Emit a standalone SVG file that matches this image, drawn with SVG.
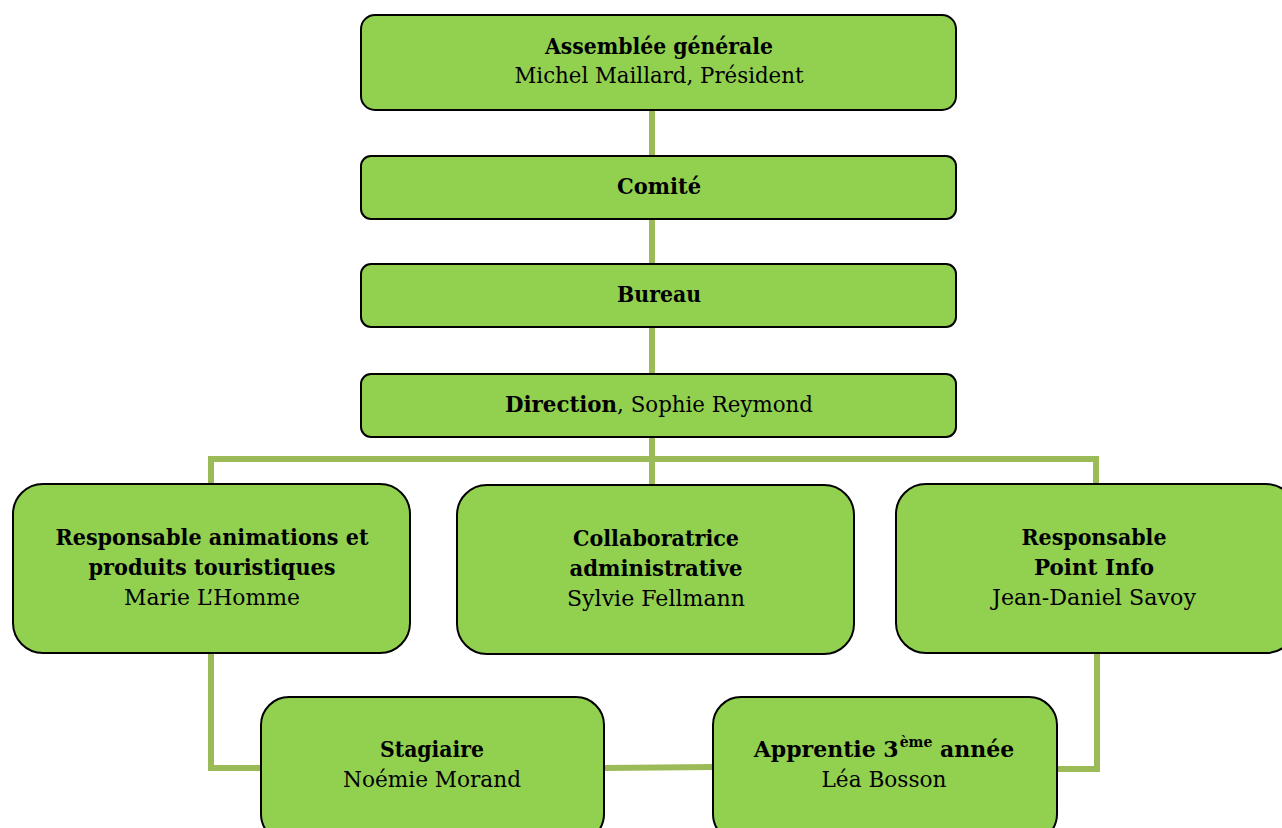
<svg xmlns="http://www.w3.org/2000/svg" width="1282" height="828" viewBox="0 0 1282 828">
<style>
.box{fill:#92d050;stroke:#000;stroke-width:2}
.con{stroke:#9bbb59;stroke-width:6;fill:none}
text{font-family:"DejaVu Serif","Liberation Serif",serif;font-size:22px;fill:#000;text-anchor:middle}
.b{font-weight:bold}
</style>
<rect width="1282" height="828" fill="#fff"/>
<g id="connectors">
<line class="con" x1="652" y1="110" x2="652" y2="485"/>
<polyline class="con" points="211,485 211,459 1096,459 1096,485"/>
<polyline class="con" points="211,653 211,768 262,768"/>
<line class="con" x1="604" y1="768" x2="713" y2="767"/>
<polyline class="con" points="1057,769 1097,769 1097,653"/>
</g>
<g id="n1"><rect class="box" x="361" y="15" width="595" height="95" rx="14"/>
<text x="659" y="54" class="b" textLength="228" lengthAdjust="spacingAndGlyphs">Assemblée générale</text>
<text x="659" y="83" textLength="289" lengthAdjust="spacingAndGlyphs">Michel Maillard, Président</text></g>
<g id="n2"><rect class="box" x="361" y="156" width="595" height="63" rx="10"/>
<text x="659" y="194" class="b" textLength="84" lengthAdjust="spacingAndGlyphs">Comité</text></g>
<g id="n3"><rect class="box" x="361" y="264" width="595" height="63" rx="10"/>
<text x="659" y="302" class="b" textLength="84" lengthAdjust="spacingAndGlyphs">Bureau</text></g>
<g id="n4"><rect class="box" x="361" y="374" width="595" height="63" rx="10"/>
<text x="659" y="412" textLength="308" lengthAdjust="spacingAndGlyphs"><tspan class="b">Direction</tspan>, Sophie Reymond</text></g>
<g id="n5"><rect class="box" x="13" y="484" width="397" height="169" rx="30"/>
<text x="212" y="545" class="b" textLength="313" lengthAdjust="spacingAndGlyphs">Responsable animations et</text>
<text x="212" y="575" class="b" textLength="247" lengthAdjust="spacingAndGlyphs">produits touristiques</text>
<text x="212" y="605" textLength="176" lengthAdjust="spacingAndGlyphs">Marie L’Homme</text></g>
<g id="n6"><rect class="box" x="457" y="485" width="397" height="169" rx="30"/>
<text x="656" y="546" class="b" textLength="166" lengthAdjust="spacingAndGlyphs">Collaboratrice</text>
<text x="656" y="576" class="b" textLength="173" lengthAdjust="spacingAndGlyphs">administrative</text>
<text x="656" y="606" textLength="178" lengthAdjust="spacingAndGlyphs">Sylvie Fellmann</text></g>
<g id="n7"><rect class="box" x="896" y="484" width="400" height="169" rx="30"/>
<text x="1094" y="545" class="b" textLength="145" lengthAdjust="spacingAndGlyphs">Responsable</text>
<text x="1094" y="575" class="b" textLength="120" lengthAdjust="spacingAndGlyphs">Point Info</text>
<text x="1094" y="605" textLength="204" lengthAdjust="spacingAndGlyphs">Jean-Daniel Savoy</text></g>
<g id="n8"><rect class="box" x="261" y="697" width="343" height="145" rx="28"/>
<text x="432" y="757" class="b" textLength="104" lengthAdjust="spacingAndGlyphs">Stagiaire</text>
<text x="432" y="787" textLength="178" lengthAdjust="spacingAndGlyphs">Noémie Morand</text></g>
<g id="n9"><rect class="box" x="713" y="697" width="344" height="145" rx="28"/>
<text x="884" y="757" class="b">Apprentie 3<tspan font-size="14" dx="1" dy="-10">ème</tspan><tspan dy="10"> année</tspan></text>
<text x="884" y="787" textLength="125" lengthAdjust="spacingAndGlyphs">Léa Bosson</text></g>
</svg>
